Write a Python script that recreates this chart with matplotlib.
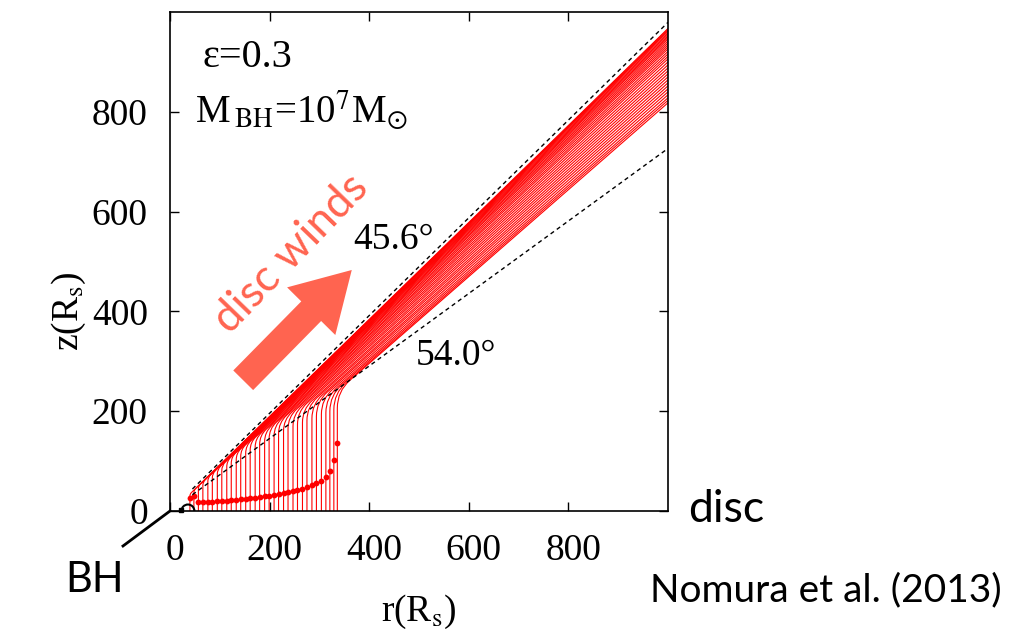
import matplotlib
matplotlib.use("Agg")
import matplotlib.pyplot as plt
from matplotlib.path import Path
from matplotlib.patches import PathPatch, FancyArrow, Circle
from matplotlib.lines import Line2D
from matplotlib.transforms import ScaledTranslation
import numpy as np

plt.rcParams["font.family"] = ["Liberation Serif", "DejaVu Serif"]
plt.rcParams["mathtext.fontset"] = "stix"

# streamlines: launch radius, height of the bend, height where they leave at r=1000
launch_r = [40, 48, 57, 66, 76, 85, 95, 104, 114, 123, 133, 142, 152, 161, 171, 180, 190,
            199, 209, 218, 228, 237, 247, 256, 266, 275, 285, 294, 304, 313, 321, 329, 336]
bend_z = [34, 41.5, 50, 58, 67, 75, 83.5, 91.5, 100, 108, 116, 123.5, 131, 138, 145, 151.5, 158,
          164.5, 171, 177, 183, 188.5, 194, 199, 204, 209, 214, 219, 224, 228, 232, 236, 240]
end_z = [967, 965, 963, 961, 958, 955, 952, 949, 946, 942, 938, 934, 930, 926, 921, 916, 911,
         906, 900, 894, 888, 882, 876, 870, 864, 858, 852, 846, 840, 834, 828, 823, 818]
# red dots on each streamline
dot_z = [27, 31, 18, 18, 18.5, 19, 19.5, 20, 21, 22, 23, 24, 25, 26, 27, 28, 29.5,
         31, 32.5, 34, 36, 38, 40, 42, 45, 48, 52, 56, 61, 68, 80, 102, 136]

# opening angles of the dashed lines (from the z axis)
angles = [45.6, 54.0]
angle_labels = ["45.6°", "54.0°"]
angle_label_pos = [(448, 543), (574, 311)]

xticks = [0, 200, 400, 600, 800]
yticks = [0, 200, 400, 600, 800]

W, H = 1029, 629
fig = plt.figure(figsize=(W / 100, H / 100), dpi=100)
ax = fig.add_axes([170 / W, 1 - 511 / H, 498 / W, 499 / H])
ax.set_xlim(0, 1000)
ax.set_ylim(0, 1000)

# streamlines
for r0, b, e in zip(launch_r, bend_z, end_z):
    k = 0.1 * r0
    d = np.array([1000 - r0, e - b])
    u = d / np.hypot(*d)
    verts = [(r0, 0), (r0, b - k), (r0, b), (r0 + k * u[0], b + k * u[1]), (1000, e)]
    codes = [Path.MOVETO, Path.LINETO, Path.CURVE3, Path.CURVE3, Path.LINETO]
    ax.add_patch(PathPatch(Path(verts, codes), fill=False, edgecolor="red", lw=0.8, zorder=2))

ax.plot(launch_r, dot_z, "o", color="red", ms=4.2, mec="none", zorder=3)

# dashed opening-angle lines
r_line = np.array([45, 1000])
for a in angles:
    ax.plot(r_line, r_line / np.tan(np.radians(a)), color="black", lw=1.0,
            ls=(0, (3, 2.5)), zorder=4)
for txt, (x, y) in zip(angle_labels, angle_label_pos):
    ax.text(x, y, txt, fontsize=27, ha="center", va="center")

# black hole
ax.add_patch(Circle((36, 0), 13, fill=False, edgecolor="black", lw=1.5, zorder=5))
ax.plot([22], [3], "s", color="black", ms=3, clip_on=False, zorder=5)

sans = ["Lato", "DejaVu Sans"]

# wind arrow
ax.add_patch(FancyArrow(147, 262, 218, 221, width=56, head_width=136, head_length=116,
                        length_includes_head=True, color="#ff6450", lw=0, zorder=6))
ax.text(243, 515, "disc winds", fontsize=32, family=sans, color="#ff6450",
        rotation=46, ha="center", va="center", rotation_mode="anchor")

ax.text(66, 908, "ε=0.3", fontsize=29, ha="left", va="center")
ax.text(50, 802, r"M$\,_{\mathrm{BH}}$=10$^{7}$M$_{\odot}$", fontsize=28, ha="left", va="center")

ax.set_xticks(xticks)
ax.set_yticks(yticks)
ax.tick_params(direction="in", length=6.5, width=1, top=True, right=True,
               labelsize=27, pad=16)
for lab in ax.get_xticklabels():
    lab.set_transform(lab.get_transform() + ScaledTranslation(0.05, 0, fig.dpi_scale_trans))
for s in ax.spines.values():
    s.set_linewidth(1.2)

ax.set_xlabel(r"r(R$_{\mathrm{s}}$)", fontsize=27, labelpad=18)
ax.set_ylabel(r"z(R$_{\mathrm{s}}$)", fontsize=27)
ax.yaxis.set_label_coords(-0.165, 0.40)

# annotations outside the axes
fig.add_artist(Line2D([123 / W, 170 / W], [1 - 546 / H, 1 - 511 / H], color="black", lw=2))
fig.text(65 / W, 1 - 592 / H, "BH", fontsize=30, family=sans, va="baseline")
fig.text(688 / W, 1 - 522 / H, "disc", fontsize=32, family=sans, va="baseline")
fig.text(650 / W, 1 - 601 / H, "Nomura et al. (2013)", fontsize=28, family=sans, va="baseline")

fig.savefig("out.png", dpi=100)
